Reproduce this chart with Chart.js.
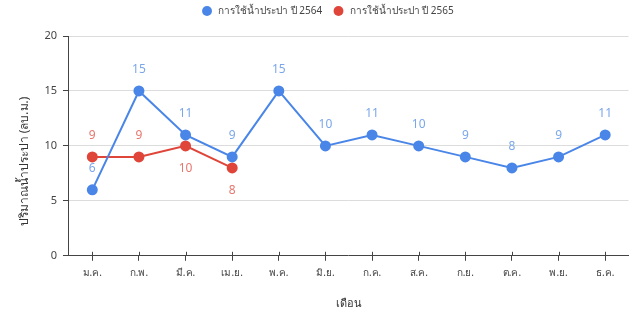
<!DOCTYPE html>
<html>
<head>
<meta charset="utf-8">
<script src="https://cdn.jsdelivr.net/npm/chart.js@4"></script>
<style>
  body { margin: 0; background: #fff; }
  #wrap { width: 635px; height: 313px; }
</style>
</head>
<body>
<div id="wrap"><canvas id="waterChart"></canvas></div>
<script>
const months = ["ม.ค.", "ก.พ.", "มี.ค.", "เม.ย.", "พ.ค.", "มิ.ย.", "ก.ค.", "ส.ค.", "ก.ย.", "ต.ค.", "พ.ย.", "ธ.ค."];
const use2564 = [6, 15, 11, 9, 15, 10, 11, 10, 9, 8, 9, 11];
const use2565 = [9, 9, 10, 8];
const yTicks = [0, 5, 10, 15, 20];
// where each value label sits relative to its point
const labelSide2564 = months.map(() => "top");
const labelSide2565 = ["top", "top", "bottom", "bottom"];

const FONT = "'Noto Sans', 'DejaVu Sans', sans-serif";

// small inline replacement for the datalabels plugin
const valueLabels = {
    id: "valueLabels",
    afterDatasetsDraw(chart) {
        const ctx = chart.ctx;
        chart.data.datasets.forEach((ds, i) => {
            const meta = chart.getDatasetMeta(i);
            ctx.save();
            ctx.font = "12px " + FONT;
            ctx.fillStyle = ds.labelColor;
            ctx.textAlign = "center";
            ctx.textBaseline = "middle";
            meta.data.forEach((pt, j) => {
                const dy = ds.labelSide[j] === "top" ? -21 : 23;
                ctx.fillText(String(ds.data[j]), pt.x, pt.y + dy);
            });
            ctx.restore();
        });
    }
};

// x tick marks also poke a little above the axis line
const crossTicks = {
    id: "crossTicks",
    afterDraw(chart) {
        const x = chart.scales.x;
        const ctx = chart.ctx;
        ctx.save();
        ctx.strokeStyle = "#444";
        ctx.lineWidth = 1;
        x.ticks.forEach((_t, i) => {
            const px = Math.round(x.getPixelForTick(i)) + 0.5;
            ctx.beginPath();
            ctx.moveTo(px, x.top - 4);
            ctx.lineTo(px, x.top);
            ctx.stroke();
        });
        ctx.restore();
    }
};

// a bit more room under the legend, and nudge it right/down
const legendGap = {
    id: "legendGap",
    beforeInit(chart) {
        const fit = chart.legend.fit;
        chart.legend.fit = function () {
            fit.call(this);
            this.height += 11;
        };
    },
    afterLayout(chart) {
        chart.legend.left += 8;
        chart.legend.right += 8;
        chart.legend.top += 1;
        chart.legend.bottom += 1;
    }
};

new Chart(document.getElementById("waterChart"), {
    type: "line",
    plugins: [valueLabels, crossTicks, legendGap],
    data: {
        labels: months,
        datasets: [
            {
                label: "การใช้น้ำประปา ปี 2564",
                data: use2564,
                borderColor: "#4a86e8",
                backgroundColor: "#4a86e8",
                pointBackgroundColor: "#4a86e8",
                borderWidth: 2,
                pointRadius: 4.5,
                tension: 0,
                labelColor: "#7ba7ea",
                labelSide: labelSide2564
            },
            {
                label: "การใช้น้ำประปา ปี 2565",
                data: use2565,
                borderColor: "#e0453a",
                backgroundColor: "#e0453a",
                pointBackgroundColor: "#e0453a",
                borderWidth: 2,
                pointRadius: 4.5,
                tension: 0,
                labelColor: "#e8776e",
                labelSide: labelSide2565
            }
        ]
    },
    options: {
        responsive: true,
        maintainAspectRatio: false,
        animation: false,
        layout: { padding: { top: 0, right: 3, bottom: 3, left: 17 } },
        plugins: {
            tooltip: { enabled: false },
            legend: {
                position: "top",
                labels: {
                    usePointStyle: true,
                    pointStyle: "circle",
                    boxWidth: 7,
                    boxHeight: 7,
                    padding: 5,
                    color: "#444",
                    font: { family: FONT, size: 10 },
                    generateLabels(chart) {
                        const items = Chart.defaults.plugins.legend.labels.generateLabels(chart);
                        items.forEach(it => {
                            it.text = " " + it.text + "   ";
                            it.lineWidth = 0;
                        });
                        return items;
                    }
                }
            }
        },
        scales: {
            x: {
                offset: true,
                border: { display: true, color: "#444", width: 1 },
                grid: {
                    drawOnChartArea: false,
                    drawTicks: true,
                    tickLength: 5,
                    tickColor: "#444"
                },
                ticks: { color: "#444", padding: 6, font: { family: FONT, size: 10 } },
                title: {
                    display: true,
                    text: "เดือน",
                    color: "#333",
                    padding: { top: 12, bottom: 0 },
                    font: { family: FONT, size: 11 }
                }
            },
            y: {
                min: yTicks[0],
                max: yTicks[yTicks.length - 1],
                afterBuildTicks(axis) {
                    axis.ticks = yTicks.map(v => ({ value: v }));
                },
                border: { display: true, color: "#444", width: 1 },
                grid: {
                    color: "#dcdcdc",
                    tickColor: "#444",
                    tickLength: 6
                },
                ticks: { color: "#444", padding: 6, font: { family: FONT, size: 11 } },
                title: {
                    display: true,
                    // trailing spaces push the visible text a little lower, as in the source
                    text: "ปริมาณน้ำประปา (ลบ.ม.)          ",
                    color: "#333",
                    padding: { top: 0, bottom: 7 },
                    font: { family: FONT, size: 12 }
                }
            }
        }
    }
});
</script>
</body>
</html>
